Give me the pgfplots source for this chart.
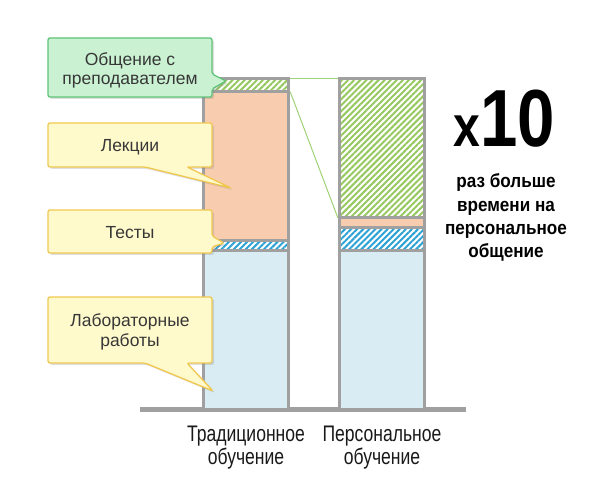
\documentclass[border=0pt]{standalone}
\usepackage{pgfplots}
\pgfplotsset{compat=1.18}
\usepackage{fontspec}
\setmainfont{Liberation Sans}
\newfontfamily\labelfont[FakeStretch=0.78]{Liberation Sans}
\newfontfamily\bigfont[FakeStretch=0.83]{Liberation Sans}
\newfontfamily\subfont[FakeStretch=0.9]{Liberation Sans}
\usetikzlibrary{patterns.meta,shadows}
\definecolor{barline}{RGB}{160,160,160}
\definecolor{labblue}{RGB}{218,236,243}
\definecolor{peach}{RGB}{248,204,174}
\definecolor{testblue}{RGB}{45,162,212}
\definecolor{commgreen}{RGB}{150,200,95}
\definecolor{conngreen}{RGB}{160,210,120}
\definecolor{gfill}{RGB}{202,242,210}
\definecolor{gline}{RGB}{95,195,120}
\definecolor{yfill}{RGB}{255,250,204}
\definecolor{yline}{RGB}{240,200,80}
\definecolor{ctext}{RGB}{55,55,55}
\begin{document}
\begin{tikzpicture}
\path[use as bounding box] (0,0) rectangle (600pt,489pt);
\begin{axis}[
  at={(140pt,79pt)}, anchor=south west,
  scale only axis, width=326pt, height=331.5pt,
  xmin=-0.7794, xmax=1.6176, ymin=0, ymax=100,
  ybar stacked, bar width=0.62,
  axis line style={draw=none}, tick style={draw=none},
  major tick length=0pt,
  xtick={0,1},
  xticklabels={Традиционное\\обучение, Персональное\\обучение},
  xticklabel style={font={\labelfont\fontsize{22.5}{23}\selectfont}, align=center, text=black!90, yshift=-12pt},
  ytick=\empty,
  clip=false,
]
\addplot[fill=labblue, draw=barline, line width=3pt] coordinates {(0,48) (1,48)};
\addplot[draw=barline, line width=3pt, pattern={Lines[angle=45,distance=4.3pt,line width=2pt]}, pattern color=testblue] coordinates {(0,3) (1,7)};
\addplot[fill=peach, draw=barline, line width=3pt] coordinates {(0,45) (1,3)};
\addplot[draw=barline, line width=3pt, pattern={Lines[angle=45,distance=4.3pt,line width=2pt]}, pattern color=commgreen] coordinates {(0,4) (1,42)};
\draw[conngreen, line width=1pt] (axis cs:0.325,100) -- (axis cs:0.675,100);
\draw[conngreen, line width=1pt] (axis cs:0.325,96) -- (axis cs:0.675,58);
\draw[barline, line width=5pt] (rel axis cs:0,0) -- (rel axis cs:1,0);
\end{axis}
\begin{scope}[x=1pt,y=-1pt,shift={(0pt,489pt)}]
\tikzset{
  gcall/.style={fill=gfill, draw=gline, line width=1.3pt, rounded corners=2pt, drop shadow={shadow xshift=2pt, shadow yshift=-2pt, opacity=0.25}},
  ycall/.style={fill=yfill, draw=yline, line width=1.3pt, rounded corners=2pt, drop shadow={shadow xshift=2pt, shadow yshift=-2pt, opacity=0.25}},
  ctxt/.style={anchor=base, inner sep=0pt, text=ctext, font={\fontsize{17.5}{20}\selectfont}}
}
\path[gcall] (48,38) -- (212,38) -- (212,74) -- (226,81) -- (212,89) -- (212,97) -- (48,97) -- cycle;
\node[ctxt] at (130,66) {Общение с};
\node[ctxt] at (130,85) {преподавателем};
\path[ycall] (48,123) -- (212,123) -- (212,167) -- (187,167) -- (231,188) -- (145,167) -- (48,167) -- cycle;
\node[ctxt] at (130,152) {Лекции};
\path[ycall] (48,210) -- (212,210) -- (212,236) -- (224,243) -- (212,247) -- (212,253) -- (48,253) -- cycle;
\node[ctxt] at (130,239) {Тесты};
\path[ycall] (48,297) -- (212,297) -- (212,363) -- (187,363) -- (213,391) -- (145,363) -- (48,363) -- cycle;
\node[ctxt] at (130,327) {Лабораторные};
\node[ctxt] at (130,347) {работы};
\node[anchor=base, inner sep=0pt] at (504,147) {\bigfont\bfseries\fontsize{58}{58}\selectfont x\fontsize{81}{81}\selectfont 10};
\tikzset{stxt/.style={anchor=base, inner sep=0pt, font={\subfont\bfseries\fontsize{19}{23}\selectfont}}}
\node[stxt] at (506,188) {раз больше};
\node[stxt] at (506,211.5) {времени на};
\node[stxt] at (506,235) {персональное};
\node[stxt] at (506,258) {общение};
\end{scope}
\end{tikzpicture}
\end{document}
